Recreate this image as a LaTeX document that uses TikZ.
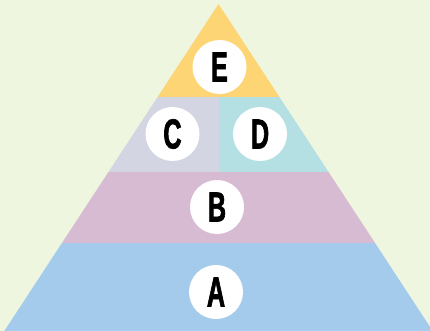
\documentclass[tikz,border=0pt]{standalone}
\usepackage{fontspec}
\newfontfamily\labfont[FakeStretch=0.6,FakeBold=1.5]{Liberation Sans Bold}
\definecolor{bg}{HTML}{EEF6E0}
\definecolor{cE}{HTML}{FDD575}
\definecolor{cC}{HTML}{D3D6E2}
\definecolor{cD}{HTML}{B5E0E3}
\definecolor{cB}{HTML}{D7BBD2}
\definecolor{cA}{HTML}{A4CAEC}
\tikzset{
  lab/.style={circle, fill=white, minimum size=54pt, inner sep=0pt,
    font=\labfont\fontsize{42}{42}\selectfont, text=black}
}
\begin{document}
\begin{tikzpicture}[x=1pt,y=-1pt]
\useasboundingbox (0,0) rectangle (430,331);
\fill[bg] (0,0) rectangle (430,331);
\coordinate (apex) at (218.5,4);
\coordinate (bl) at (4.3,331);
\coordinate (br) at (432.7,331);
\begin{scope}
\clip (apex) -- (bl) -- (br) -- cycle;
\fill[cE] (0,0) rectangle (430,97);
\fill[cC] (0,97) rectangle (219,171.5);
\fill[cD] (219,97) rectangle (430,171.5);
\fill[cB] (0,171.5) rectangle (430,243);
\fill[cA] (0,243) rectangle (440,331);
\end{scope}
\node[lab] (E) at (219.5,67) {E};
\node[lab] (C) at (172.5,134) {C};
\node[lab] (D) at (260,134) {D};
\node[lab] (B) at (217,207) {B};
\node[lab] (A) at (216,292) {A};
\end{tikzpicture}
\end{document}
